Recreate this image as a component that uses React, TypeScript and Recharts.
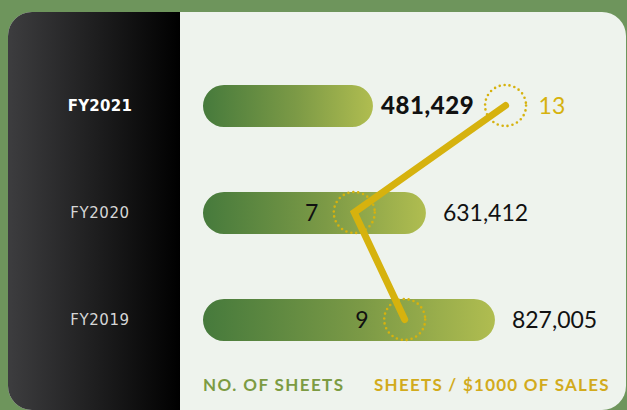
import React from 'react';
import { ComposedChart, Bar, Line, XAxis, YAxis, LabelList } from 'recharts';

const years = ['FY2021', 'FY2020', 'FY2019'];
const sheetCounts = [481429, 631412, 827005];
const sheetsPerThousand = [13, 7, 9];

const data = years.map((year, i) => ({
  year,
  sheets: sheetCounts[i],
  ratio: sheetsPerThousand[i],
}));

const GOLD = '#d6b20e';
const LEGEND_GREEN = '#7c9b42';
const LEGEND_GOLD = '#d2ab1c';

const YearTick = (props: any) => {
  const { y, payload, index } = props;
  const current = index === 0;
  return (
    <text
      x={100}
      y={y}
      dy={5}
      textAnchor="middle"
      fontFamily="DejaVu Sans"
      fontSize={current ? 15 : 15}
      fontWeight={current ? 700 : 400}
      letterSpacing={current ? 0.3 : 0.6}
      fill={current ? '#ffffff' : '#d6d6d6'}
    >
      {payload.value}
    </text>
  );
};

const SheetsLabel = (props: any) => {
  const { x, y, width, height, value, index } = props;
  const bold = index === 0;
  return (
    <text
      x={Number(x) + Number(width) + (bold ? 8 : 17)}
      y={Number(y) + Number(height) / 2 + 8}
      fontFamily="Lato"
      fontSize={bold ? 24 : 23}
      fontWeight={bold ? 900 : 400}
      letterSpacing={bold ? 0.6 : 0}
      fill="#111"
    >
      {Number(value).toLocaleString('en-US')}
    </text>
  );
};

const RatioLabel = (props: any) => {
  const { x, y, value, index } = props;
  const first = index === 0;
  return (
    <text
      x={first ? Number(x) + 33 : Number(x) - 36}
      y={Number(y) + 8}
      textAnchor={first ? 'start' : 'end'}
      fontFamily="Lato"
      fontSize={23}
      fill={first ? GOLD : '#111'}
    >
      {value}
    </text>
  );
};

const DottedRing = (props: any) => {
  const { cx, cy, index } = props;
  return (
    <circle
      key={`ring-${index}`}
      cx={cx}
      cy={cy}
      r={20.5}
      fill="none"
      stroke={GOLD}
      strokeWidth={2.6}
      strokeDasharray="0 5"
      strokeLinecap="round"
    />
  );
};

const App = () => {
  return (
    <div
      style={{
        position: 'fixed',
        left: 0,
        top: 0,
        width: 627,
        height: 410,
        overflow: 'hidden',
        background: '#6e955c',
      }}
    >
      <div
        style={{
          position: 'absolute',
          left: 8,
          top: 12,
          width: 618,
          height: 398,
          borderRadius: 24,
          overflow: 'hidden',
          background: '#eef3ed',
        }}
      >
        <div
          style={{
            position: 'absolute',
            left: 0,
            top: 0,
            width: 172,
            height: '100%',
            background: 'linear-gradient(to right, #3d3d3f, #000000)',
          }}
        />
      </div>

      <div style={{ position: 'absolute', left: 0, top: 0 }}>
        <ComposedChart
          width={627}
          height={410}
          data={data}
          layout="vertical"
          margin={{ top: 52, right: 71, bottom: 37, left: 0 }}
        >
          <defs>
            <linearGradient id="barFill" x1="0" y1="0" x2="1" y2="0">
              <stop offset="0%" stopColor="#467a3c" />
              <stop offset="55%" stopColor="#7c9a46" />
              <stop offset="100%" stopColor="#b0bd50" />
            </linearGradient>
          </defs>
          <XAxis xAxisId="sheets" type="number" domain={[0, 1000000]} hide />
          <XAxis xAxisId="ratio" type="number" domain={[1, 15]} hide />
          <YAxis
            type="category"
            dataKey="year"
            width={203}
            axisLine={false}
            tickLine={false}
            tick={<YearTick />}
          />
          <Bar
            xAxisId="sheets"
            dataKey="sheets"
            barSize={42}
            radius={21}
            fill="url(#barFill)"
            isAnimationActive={false}
          >
            <LabelList dataKey="sheets" content={<SheetsLabel />} />
          </Bar>
          <Line
            xAxisId="ratio"
            dataKey="ratio"
            type="linear"
            stroke={GOLD}
            strokeWidth={7}
            strokeLinecap="round"
            dot={DottedRing}
            activeDot={false}
            isAnimationActive={false}
          >
            <LabelList dataKey="ratio" content={<RatioLabel />} />
          </Line>
        </ComposedChart>
      </div>

      <div
        style={{
          position: 'absolute',
          left: 203,
          top: 374,
          fontFamily: 'Lato',
          fontWeight: 700,
          fontSize: 17,
          letterSpacing: 1.4,
          color: LEGEND_GREEN,
          whiteSpace: 'nowrap',
        }}
      >
        NO. OF SHEETS
      </div>
      <div
        style={{
          position: 'absolute',
          left: 374,
          top: 374,
          fontFamily: 'Lato',
          fontWeight: 700,
          fontSize: 17,
          letterSpacing: 1.25,
          color: LEGEND_GOLD,
          whiteSpace: 'nowrap',
        }}
      >
        SHEETS / $1000 OF SALES
      </div>
    </div>
  );
};

export default App;
